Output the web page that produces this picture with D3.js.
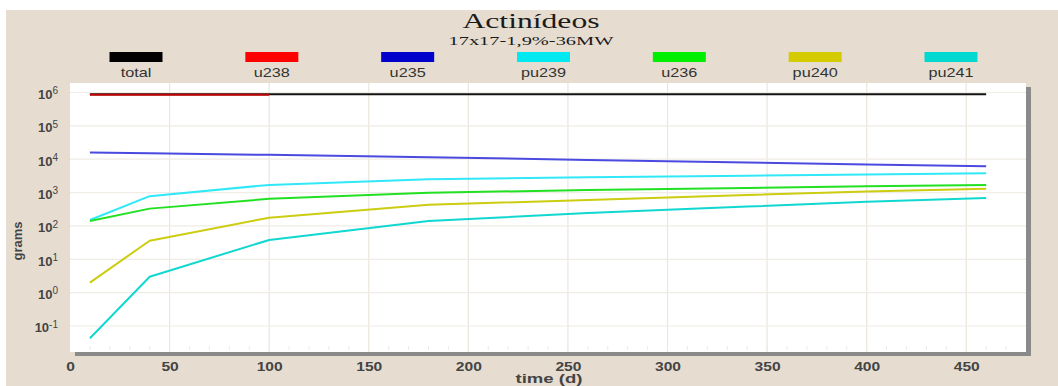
<!DOCTYPE html>
<html>
<head>
<meta charset="utf-8">
<script src="https://cdn.jsdelivr.net/npm/d3@7"></script>
<style>
  body { margin: 0; background: #fff; }
  svg { display: block; }
</style>
</head>
<body>
<svg></svg>
<script>
// time points (days)
var days = [10, 40, 100, 180, 260, 340, 400, 460];

var total = [8.8e5, 8.8e5, 8.8e5, 8.8e5, 8.8e5, 8.8e5, 8.8e5, 8.8e5];
var u238  = [8.5e5, 8.5e5, 8.5e5];
var u235  = [1.6e4, 1.5e4, 1.35e4, 1.15e4, 9.5e3, 8.0e3, 7.0e3, 6.2e3];
var pu239 = [150, 780, 1700, 2500, 2900, 3200, 3500, 3800];
var u236  = [140, 330, 650, 980, 1200, 1380, 1550, 1690];
var pu240 = [2.0, 36, 177, 430, 600, 850, 1070, 1300];
var pu241 = [0.043, 3.0, 38, 140, 243, 380, 530, 690];

var seriesNames  = ["total", "u238", "u235", "pu239", "u236", "pu240", "pu241"];
var seriesValues = [total, u238, u235, pu239, u236, pu240, pu241];
var lineColors   = ["#111111", "#c00000", "#4a4ae0", "#30e8f8", "#22e022", "#cccc10", "#10d8d0"];
var legendColors = ["#000000", "#ff0000", "#0000cc", "#00e8f0", "#00ee00", "#d4cc00", "#00d8d0"];

var xTicks = [0, 50, 100, 150, 200, 250, 300, 350, 400, 450];
var yTicks = [-1, 0, 1, 2, 3, 4, 5, 6];

var W = 1058, H = 386;
var plot = {left: 70, right: 1026, top: 83, bottom: 352};

var svg = d3.select("svg").attr("width", W).attr("height", H)
  .style("font-family", "Arial, 'Liberation Sans', sans-serif");

// beige panel
svg.append("rect").attr("x", 6).attr("y", 10).attr("width", W - 6).attr("height", H - 10)
  .attr("fill", "#e6ddd0");

var x = d3.scaleLinear().domain([0, 480]).range([plot.left, plot.right]);
var y = d3.scaleLog().domain([Math.pow(10, -1.78), Math.pow(10, 6.285)]).range([plot.bottom, plot.top]);

// shadow + plot area
svg.append("rect").attr("x", plot.left + 5).attr("y", plot.top + 4)
  .attr("width", plot.right - plot.left).attr("height", plot.bottom - plot.top)
  .attr("fill", "#8a8a8a");
svg.append("rect").attr("x", plot.left).attr("y", plot.top)
  .attr("width", plot.right - plot.left).attr("height", plot.bottom - plot.top)
  .attr("fill", "#ffffff");

// grid
svg.append("g").selectAll("line").data(xTicks.slice(1)).enter().append("line")
  .attr("x1", d => x(d)).attr("x2", d => x(d))
  .attr("y1", plot.top).attr("y2", plot.bottom)
  .attr("stroke", "#ebe6dc").attr("stroke-width", 1.2);
svg.append("g").selectAll("line").data(yTicks).enter().append("line")
  .attr("x1", plot.left).attr("x2", plot.right)
  .attr("y1", d => y(Math.pow(10, d))).attr("y2", d => y(Math.pow(10, d)))
  .attr("stroke", "#f0ece6").attr("stroke-width", 1.2);

// faint minor ticks along bottom
svg.append("g").selectAll("line").data(d3.range(10, 480, 10)).enter().append("line")
  .attr("x1", d => x(d)).attr("x2", d => x(d))
  .attr("y1", plot.bottom - 6).attr("y2", plot.bottom - 2)
  .attr("stroke", "#eeeae4");

// lines
var line = d3.line().x((d, i) => x(days[i])).y(d => y(d));
svg.append("g").selectAll("path").data(seriesValues).enter().append("path")
  .attr("d", d => line(d))
  .attr("fill", "none")
  .attr("stroke", (d, i) => lineColors[i])
  .attr("stroke-width", 2)
  .attr("stroke-linejoin", "round");

// x axis
var xAxis = svg.append("g").attr("transform", "translate(0," + plot.bottom + ")")
  .call(d3.axisBottom(x).tickValues(xTicks).tickSize(0).tickPadding(10));
xAxis.select(".domain").remove();
xAxis.selectAll("text")
  .attr("fill", "#444").style("font-size", "13px").style("font-weight", "bold")
  .attr("transform", "scale(1.2,1)");

// y axis
var yAxis = svg.append("g").attr("transform", "translate(" + (plot.left - 12) + ",0)")
  .call(d3.axisLeft(y).tickValues(yTicks.map(d => Math.pow(10, d))).tickSize(0).tickPadding(0));
yAxis.select(".domain").remove();
yAxis.selectAll("text").each(function(d) {
  var t = d3.select(this).text("")
    .attr("fill", "#444").style("font-size", "13px").style("font-weight", "bold")
    .attr("dy", "0.45em");
  t.append("tspan").text("10");
  t.append("tspan").text(Math.round(Math.log10(d))).attr("dy", "-0.45em")
    .style("font-size", "10px").style("font-weight", "normal");
});

// axis titles
svg.append("text").attr("x", 549).attr("y", 383)
  .attr("text-anchor", "middle").attr("fill", "#444")
  .style("font-size", "12px").style("font-weight", "bold")
  .attr("textLength", 67).attr("lengthAdjust", "spacingAndGlyphs")
  .text("time (d)");
svg.append("text").attr("transform", "translate(22,241) rotate(-90)")
  .attr("text-anchor", "middle").attr("fill", "#444")
  .style("font-size", "13px").style("font-weight", "bold")
  .text("grams");

// title
svg.append("text").attr("x", 531).attr("y", 28)
  .attr("text-anchor", "middle").attr("fill", "#1a1a1a")
  .style("font-family", "'Liberation Serif', 'DejaVu Serif', serif")
  .style("font-size", "20px")
  .attr("textLength", 137).attr("lengthAdjust", "spacingAndGlyphs")
  .text("Actinídeos");
svg.append("text").attr("x", 531).attr("y", 45)
  .attr("text-anchor", "middle").attr("fill", "#1a1a1a")
  .style("font-family", "'Liberation Serif', 'DejaVu Serif', serif")
  .style("font-size", "12px")
  .attr("textLength", 165).attr("lengthAdjust", "spacingAndGlyphs")
  .text("17x17-1,9%-36MW");

// legend
var legendX = d3.scalePoint().domain(seriesNames).range([136, 951]);
var leg = svg.append("g").selectAll("g").data(seriesNames).enter().append("g")
  .attr("transform", d => "translate(" + legendX(d) + ",0)");
leg.append("rect").attr("x", -26.5).attr("y", 52).attr("width", 53).attr("height", 10)
  .attr("fill", (d, i) => legendColors[i]);
leg.append("text").attr("y", 77).attr("text-anchor", "middle")
  .attr("fill", "#333").style("font-size", "13px")
  .attr("transform", "scale(1.25,1)")
  .text(d => d);
</script>
</body>
</html>
